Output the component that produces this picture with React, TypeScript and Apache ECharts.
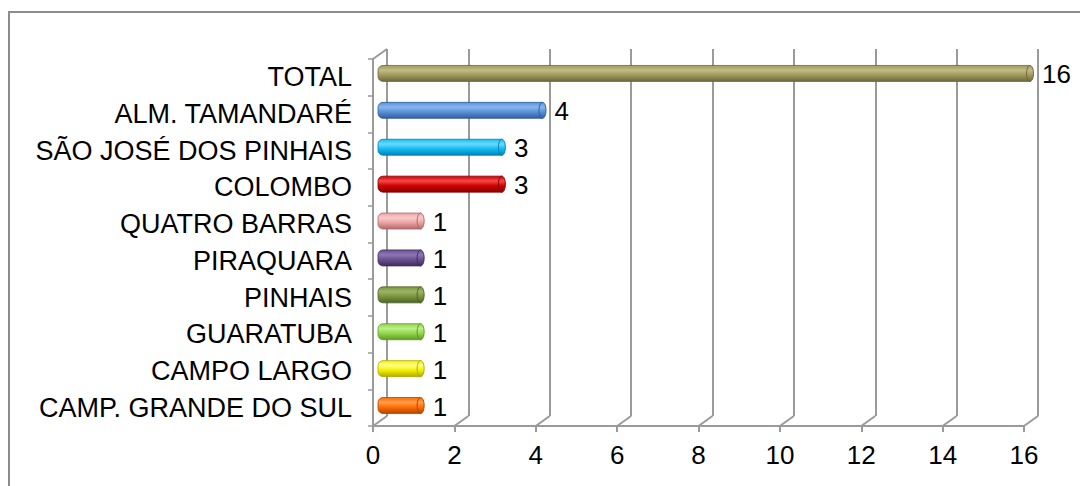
import React, { useEffect, useRef } from "react";
import * as echarts from "echarts";

const categories = [
  "TOTAL",
  "ALM. TAMANDARÉ",
  "SÃO JOSÉ DOS PINHAIS",
  "COLOMBO",
  "QUATRO BARRAS",
  "PIRAQUARA",
  "PINHAIS",
  "GUARATUBA",
  "CAMPO LARGO",
  "CAMP. GRANDE DO SUL",
];
const values = [16, 4, 3, 3, 1, 1, 1, 1, 1, 1];
// [base, highlight, shadow] for each cylinder
const barColors: [string, string, string][] = [
  ["#A09A5E", "#C2BC84", "#6E6838"],
  ["#5A8FD8", "#8AB5EE", "#2F5E9E"],
  ["#12BCF2", "#6CD9FF", "#0083B5"],
  ["#D00000", "#F24A4A", "#880000"],
  ["#EBA3A3", "#F8CBCB", "#B06A6A"],
  ["#6A5090", "#8E76B2", "#3F2C5C"],
  ["#7A9440", "#9CB464", "#4E6324"],
  ["#94D54E", "#BCEE86", "#5E9A22"],
  ["#F4F000", "#FFFF8A", "#B0AA00"],
  ["#FF6E00", "#FF9E4C", "#B04500"],
];
const axisMin = 0;
const axisMax = 16;
const axisStep = 2;

const FONT = "'Liberation Sans', Arial, sans-serif";
const GRID_GRAY = "#9a9a9a";
// depth offset between the front edge and the back wall
const DEPTH_X = 14;
const DEPTH_Y = -10;

export default function App() {
  const ref = useRef<HTMLDivElement>(null);

  useEffect(() => {
    if (!ref.current) return;
    const chart = echarts.init(ref.current, undefined, { renderer: "svg" });

    const tickValues: number[] = [];
    for (let v = axisMin; v <= axisMax; v += axisStep) tickValues.push(v);

    const cylinderFill = (i: number) => {
      const [base, light, dark] = barColors[i];
      return new echarts.graphic.LinearGradient(0, 0, 0, 1, [
        { offset: 0, color: base },
        { offset: 0.3, color: light },
        { offset: 0.6, color: base },
        { offset: 1, color: dark },
      ]);
    };

    chart.setOption({
      animation: false,
      backgroundColor: "#ffffff",
      graphic: [
        {
          type: "rect",
          shape: { x: 9, y: 12, width: 1200, height: 600 },
          style: { fill: "none", stroke: "#8c8c8c", lineWidth: 2 },
          z: -10,
        },
      ],
      grid: [
        // front plane (axes and labels)
        { left: 373, right: 1080 - 1024, top: 59, bottom: 486 - 426 },
        // back wall (grid lines)
        { left: 387, right: 1080 - 1038, top: 49, bottom: 486 - 416 },
        // middle depth (bars)
        { left: 380, right: 1080 - 1030, top: 55, bottom: 486 - 424 },
      ],
      xAxis: [
        {
          gridIndex: 0,
          type: "value",
          min: axisMin,
          max: axisMax,
          interval: axisStep,
          axisLine: { show: true, lineStyle: { color: GRID_GRAY, width: 2 } },
          axisTick: { show: true, length: 6, lineStyle: { color: GRID_GRAY, width: 2 } },
          axisLabel: { color: "#000", fontSize: 26, fontFamily: FONT, margin: 16 },
          splitLine: { show: false },
        },
        {
          gridIndex: 1,
          type: "value",
          min: axisMin,
          max: axisMax,
          interval: axisStep,
          axisLine: { show: false },
          axisTick: { show: false },
          axisLabel: { show: false },
          splitLine: { show: true, lineStyle: { color: GRID_GRAY, width: 2 } },
        },
        {
          gridIndex: 2,
          type: "value",
          min: axisMin,
          max: axisMax,
          show: false,
        },
      ],
      yAxis: [
        {
          gridIndex: 0,
          type: "category",
          data: categories,
          inverse: true,
          axisLine: { show: true, lineStyle: { color: GRID_GRAY, width: 2 } },
          axisTick: { show: true, length: 5, lineStyle: { color: GRID_GRAY, width: 1.5 } },
          axisLabel: { color: "#000", fontSize: 27, fontFamily: FONT, margin: 21 },
          splitLine: { show: false },
        },
        {
          gridIndex: 1,
          type: "category",
          data: categories,
          inverse: true,
          show: false,
        },
        {
          gridIndex: 2,
          type: "category",
          data: categories,
          inverse: true,
          show: false,
        },
      ],
      series: [
        {
          // depth edges joining the front axes to the back wall
          type: "custom",
          xAxisIndex: 0,
          yAxisIndex: 0,
          data: tickValues.map((v) => [v, 0]),
          encode: { x: 0, y: 1 },
          silent: true,
          z: 1,
          renderItem: (params: any, api: any) => {
            const cs = params.coordSys;
            const v = api.value(0);
            const x = api.coord([v, 0])[0];
            const yb = cs.y + cs.height;
            const style = { stroke: GRID_GRAY, lineWidth: 2 };
            const children: any[] = [
              {
                type: "line",
                shape: { x1: x, y1: yb, x2: x + DEPTH_X, y2: yb + DEPTH_Y },
                style,
              },
            ];
            if (v === axisMin) {
              children.push({
                type: "line",
                shape: { x1: cs.x, y1: cs.y, x2: cs.x + DEPTH_X, y2: cs.y + DEPTH_Y },
                style,
              });
            }
            return { type: "group", children };
          },
        },
        {
          // cylinder bars with value labels
          type: "custom",
          xAxisIndex: 2,
          yAxisIndex: 2,
          data: values.map((v, i) => [v, i]),
          encode: { x: 0, y: 1 },
          z: 10,
          renderItem: (params: any, api: any) => {
            const v = api.value(0);
            const idx = api.value(1);
            const start = api.coord([0, idx]);
            const end = api.coord([v, idx]);
            const h = 16;
            const [, , dark] = barColors[idx];
            return {
              type: "group",
              children: [
                {
                  type: "rect",
                  shape: {
                    x: start[0] - 2,
                    y: start[1] - h / 2,
                    width: end[0] - start[0] + 2,
                    height: h,
                    r: [5, 0, 0, 5],
                  },
                  style: { fill: cylinderFill(idx), stroke: dark, lineWidth: 0.8 },
                },
                {
                  type: "ellipse",
                  shape: { cx: end[0], cy: end[1], rx: 3.5, ry: h / 2 },
                  style: { fill: cylinderFill(idx), stroke: dark, lineWidth: 1 },
                },
                {
                  type: "text",
                  style: {
                    text: String(v),
                    x: end[0] + 12,
                    y: end[1] + 1,
                    verticalAlign: "middle",
                    align: "left",
                    fontSize: 26,
                    fontFamily: FONT,
                    fill: "#000",
                  },
                },
              ],
            };
          },
        },
      ],
    });

    return () => chart.dispose();
  }, []);

  return (
    <div
      ref={ref}
      style={{ position: "fixed", left: 0, top: 0, width: 1080, height: 486 }}
    />
  );
}
